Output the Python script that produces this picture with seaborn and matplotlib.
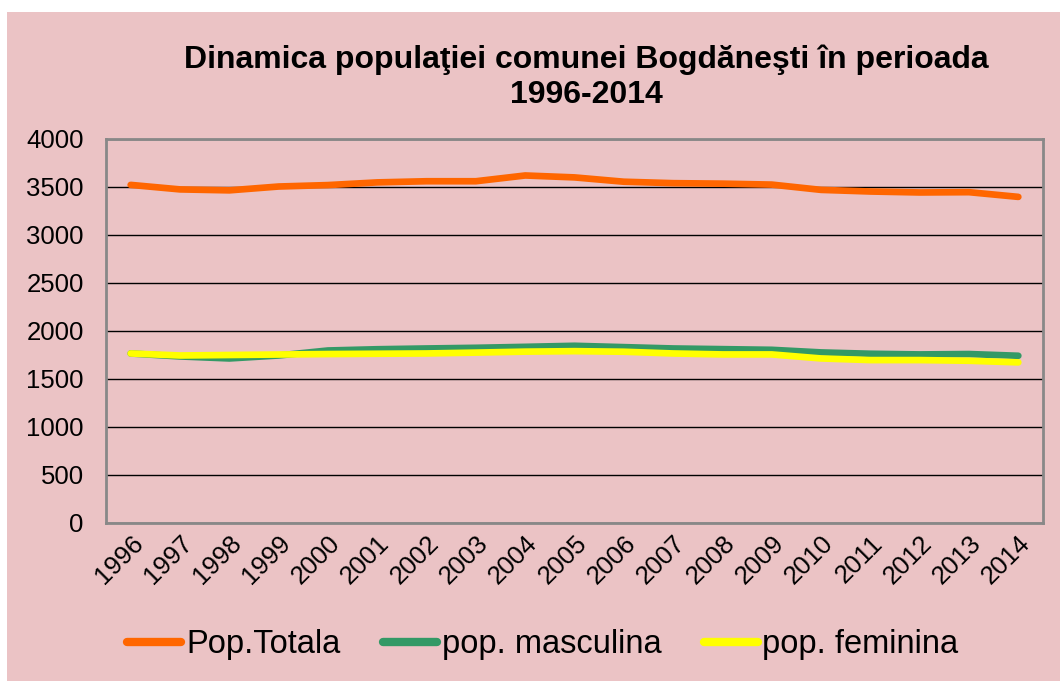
import matplotlib
matplotlib.use("Agg")
import matplotlib.pyplot as plt
import seaborn as sns
import pandas as pd
from matplotlib.patches import Rectangle

years = [str(y) for y in range(1996, 2015)]
pop_totala = [3522, 3475, 3465, 3505, 3520, 3548, 3560, 3560, 3620, 3600,
              3555, 3540, 3535, 3525, 3470, 3453, 3443, 3446, 3397]
pop_masculina = [1766, 1735, 1714, 1745, 1797, 1810, 1818, 1825, 1835, 1846,
                 1832, 1818, 1811, 1804, 1777, 1763, 1756, 1760, 1742]
pop_feminina = [1766, 1745, 1750, 1755, 1760, 1763, 1766, 1775, 1785, 1790,
                1784, 1766, 1756, 1756, 1714, 1697, 1697, 1690, 1673]
series_names = ["Pop.Totala", "pop. masculina", "pop. feminina"]
colors = ["#FF6600", "#339966", "#FFFF00"]
title = "Dinamica populaţiei comunei Bogdăneşti în perioada\n1996-2014"
yticks = [0, 500, 1000, 1500, 2000, 2500, 3000, 3500, 4000]

df = pd.DataFrame({
    "An": years * 3,
    "Valoare": pop_totala + pop_masculina + pop_feminina,
    "Serie": [series_names[0]] * len(years) + [series_names[1]] * len(years) + [series_names[2]] * len(years),
})

sns.set_theme(style="white")
plt.rcParams["font.family"] = ["Liberation Sans", "DejaVu Sans"]
plt.rcParams["text.color"] = "black"

pink = "#EBC3C5"
fig = plt.figure(figsize=(10.6, 6.81), dpi=100)
fig.patch.set_facecolor("white")
fig.patches.append(Rectangle((7 / 1060, 0), 1, (681 - 12) / 681, transform=fig.transFigure,
                             facecolor=pink, edgecolor="none", zorder=-10))

ax = fig.add_axes([106 / 1060, 1 - 523 / 681, (1043 - 106) / 1060, (523 - 139) / 681])
ax.set_facecolor(pink)

sns.lineplot(data=df, x="An", y="Valoare", hue="Serie", hue_order=series_names,
             palette=colors, linewidth=4.8, ax=ax, sort=False, legend=True,
             solid_capstyle="round")

ax.set_ylim(0, 4000)
ax.set_yticks(yticks)
ax.set_xlim(-0.5, len(years) - 0.5)
ax.yaxis.grid(True, color="black", linewidth=1)
ax.set_axisbelow(True)
ax.set_xlabel("")
ax.set_ylabel("")
for s in ax.spines.values():
    s.set_color("#888888")
    s.set_linewidth(2)
ax.tick_params(axis="y", labelsize=18.5, pad=16, length=0, colors="black")
ax.tick_params(axis="x", labelsize=18.5, pad=6, length=0, colors="black")
for lbl in ax.get_xticklabels():
    lbl.set_rotation(45)
    lbl.set_ha("right")
    lbl.set_va("top")
    lbl.set_rotation_mode("anchor")

fig.text(586 / 1060, 1 - 77 / 681, title, ha="center", va="center", color="black",
         fontsize=23, fontweight="bold", linespacing=1.22)

leg = ax.legend(loc="center", bbox_to_anchor=(543 / 1060, 1 - 645 / 681),
                bbox_transform=fig.transFigure, ncol=3, frameon=False,
                fontsize=23.5, handlelength=1.65, handletextpad=0.15, columnspacing=1.3)
for t in leg.get_texts():
    t.set_color("black")
for h in leg.get_lines():
    h.set_linewidth(6)
    h.set_solid_capstyle("round")

fig.savefig("out.png", dpi=100)
